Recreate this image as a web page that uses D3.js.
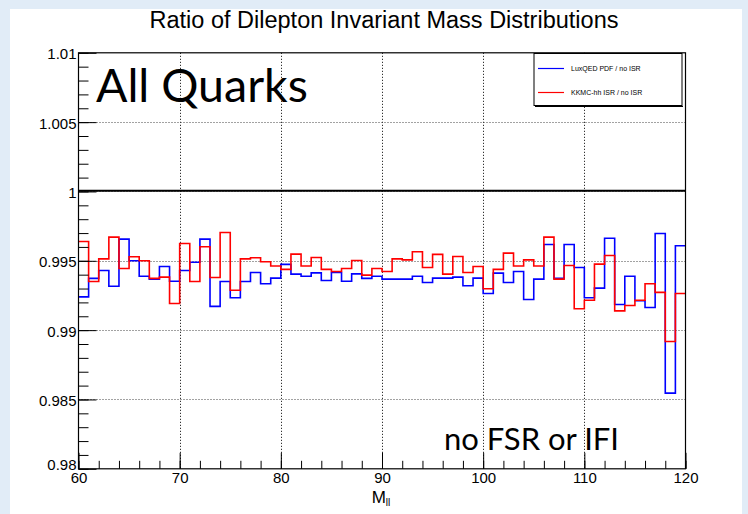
<!DOCTYPE html>
<html>
<head>
<meta charset="utf-8">
<script src="https://cdn.jsdelivr.net/npm/d3@7"></script>
<style>
  html, body { margin: 0; padding: 0; background: #e1ecf7; }
  svg { display: block; }
</style>
</head>
<body>
<script>
// ---- data ----
const binEdges = d3.range(60, 121, 1);           // 1 GeV bins from 60 to 120
const luxqedRatio = [
  0.99240, 0.99373, 0.99430, 0.99317, 0.99656, 0.99500, 0.99389, 0.99368, 0.99459, 0.99353,
  0.99430, 0.99490, 0.99656, 0.99171, 0.99351, 0.99233, 0.99351, 0.99416, 0.99334, 0.99375,
  0.99474, 0.99404, 0.99389, 0.99413, 0.99358, 0.99416, 0.99353, 0.99406, 0.99373, 0.99389,
  0.99368, 0.99368, 0.99368, 0.99389, 0.99344, 0.99375, 0.99375, 0.99382, 0.99320, 0.99375,
  0.99264, 0.99411, 0.99344, 0.99423, 0.99221, 0.99368, 0.99618, 0.99373, 0.99618, 0.99452,
  0.99233, 0.99303, 0.99663, 0.99185, 0.99389, 0.99212, 0.99163, 0.99697, 0.98546, 0.99608
];
const kkmcRatio = [
  0.99639, 0.99351, 0.99514, 0.99671, 0.99445, 0.99529, 0.99500, 0.99373, 0.99382, 0.99192,
  0.99625, 0.99351, 0.99601, 0.99380, 0.99704, 0.99288, 0.99514, 0.99522, 0.99493, 0.99462,
  0.99438, 0.99548, 0.99462, 0.99524, 0.99438, 0.99423, 0.99445, 0.99502, 0.99397, 0.99445,
  0.99423, 0.99514, 0.99507, 0.99565, 0.99452, 0.99546, 0.99404, 0.99531, 0.99416, 0.99459,
  0.99298, 0.99438, 0.99555, 0.99462, 0.99507, 0.99462, 0.99671, 0.99368, 0.99466, 0.99154,
  0.99216, 0.99476, 0.99538, 0.99139, 0.99178, 0.99216, 0.99334, 0.99272, 0.98918, 0.99264
];
const xTickValues = [60, 70, 80, 90, 100, 110, 120];
const xTickLabels = ["60", "70", "80", "90", "100", "110", "120"];
const yTickValues = [0.98, 0.985, 0.99, 0.995, 1.0, 1.005, 1.01];
const yTickLabels = ["0.98", "0.985", "0.99", "0.995", "1", "1.005", "1.01"];
const seriesNames = ["LuxQED PDF / no ISR", "KKMC-hh ISR / no ISR"];
const seriesColors = ["#0000ff", "#ff0000"];
const titleText = "Ratio of Dilepton Invariant Mass Distributions";

// ---- layout ----
const W = 748, H = 514;
const svg = d3.select("body").append("svg").attr("width", W).attr("height", H);
svg.append("rect").attr("x", 0).attr("y", 0).attr("width", W).attr("height", H).attr("fill", "#e1ecf7");
svg.append("rect").attr("x", 10).attr("y", 9).attr("width", 732).attr("height", H - 9).attr("fill", "#ffffff");

const L = 78.5, R = 685.5, T = 52.8, B = 468.8;
const x = d3.scaleLinear().domain([60, 120]).range([L, R]);
const y = d3.scaleLinear().domain([0.98, 1.01]).range([B, T]);
const rootFont = "'Liberation Sans', Arial, Helvetica, sans-serif";

// title
svg.append("text").attr("x", 384).attr("y", 28).attr("text-anchor", "middle")
  .attr("font-family", rootFont).attr("font-size", 23.5).attr("fill", "#000")
  .text(titleText);

// grid
const g = svg.append("g");
g.selectAll("line.vg").data(xTickValues.slice(1, -1)).join("line")
  .attr("x1", d => Math.round(x(d)) + 0.5).attr("x2", d => Math.round(x(d)) + 0.5)
  .attr("y1", T).attr("y2", B)
  .attr("stroke", "#000").attr("stroke-width", 1).attr("stroke-dasharray", "1,2");
g.selectAll("line.hg").data(yTickValues.slice(1, -1)).join("line")
  .attr("x1", L).attr("x2", R)
  .attr("y1", d => Math.round(y(d)) + 0.5).attr("y2", d => Math.round(y(d)) + 0.5)
  .attr("stroke", "#444").attr("stroke-width", 1).attr("stroke-dasharray", "1,2");

// unity line
g.append("line").attr("x1", L).attr("x2", R).attr("y1", y(1.0) - 0.8).attr("y2", y(1.0) - 0.8)
  .attr("stroke", "#000").attr("stroke-width", 2);

// histograms
const stepLine = d3.line().x(d => x(d[0])).y(d => y(d[1])).curve(d3.curveStepAfter);
[luxqedRatio, kkmcRatio].forEach((vals, si) => {
  const pts = vals.map((v, i) => [binEdges[i], v]);
  pts.push([binEdges[vals.length], vals[vals.length - 1]]);
  g.append("path").attr("d", stepLine(pts)).attr("fill", "none")
    .attr("stroke", seriesColors[si]).attr("stroke-width", 1.6);
});

// axes
const yMinor = d3.range(0, 31).map(i => 0.98 + i * 0.001);
const xMinor = d3.range(0, 31).map(i => 60 + i * 2);

svg.append("g").attr("transform", `translate(${L},0)`)
  .call(d3.axisLeft(y).tickValues(yMinor).tickSize(-10).tickFormat(""))
  .call(a => a.select(".domain").remove())
  .call(a => a.selectAll("line").attr("stroke", "#000"));
svg.append("g").attr("transform", `translate(${L},0)`)
  .call(d3.axisLeft(y).tickValues(yTickValues).tickSize(-18).tickPadding(3)
    .tickFormat((d, i) => yTickLabels[i]))
  .call(a => a.select(".domain").remove())
  .call(a => a.selectAll("line").attr("stroke", "#000"))
  .call(a => a.selectAll("text").attr("font-family", rootFont).attr("font-size", 15)
    .attr("fill", "#000").attr("x", -2)
    .attr("dy", d => d === 0.98 ? "0.05em" : "0.4em"));

svg.append("g").attr("transform", `translate(0,${B})`)
  .call(d3.axisBottom(x).tickValues(xMinor).tickSize(-8).tickFormat(""))
  .call(a => a.select(".domain").remove())
  .call(a => a.selectAll("line").attr("stroke", "#000"));
svg.append("g").attr("transform", `translate(0,${B})`)
  .call(d3.axisBottom(x).tickValues(xTickValues).tickSize(-16).tickPadding(4)
    .tickFormat((d, i) => xTickLabels[i]))
  .call(a => a.select(".domain").remove())
  .call(a => a.selectAll("line").attr("stroke", "#000"))
  .call(a => a.selectAll("text").attr("font-family", rootFont).attr("font-size", 15).attr("fill", "#000"));

// frame
svg.append("rect").attr("x", L).attr("y", T).attr("width", R - L).attr("height", B - T)
  .attr("fill", "none").attr("stroke", "#000").attr("stroke-width", 1.2);

// x title
const xt = svg.append("text").attr("x", 381).attr("y", 503).attr("text-anchor", "middle")
  .attr("font-family", rootFont).attr("font-size", 17).attr("fill", "#000");
xt.append("tspan").text("M");
xt.append("tspan").attr("font-size", 10).attr("dy", 3).text("ll");

// legend
const lg = svg.append("g");
lg.append("rect").attr("x", 534).attr("y", 53.5).attr("width", 148).attr("height", 52)
  .attr("fill", "#fff").attr("stroke", "#000").attr("stroke-width", 1);
lg.append("line").attr("x1", 535).attr("x2", 683).attr("y1", 106.5).attr("y2", 106.5).attr("stroke", "#000");
seriesNames.forEach((name, i) => {
  const yy = 68.5 + i * 24;
  lg.append("line").attr("x1", 538).attr("x2", 564).attr("y1", yy).attr("y2", yy)
    .attr("stroke", seriesColors[i]).attr("stroke-width", 1.2);
  lg.append("text").attr("x", 571).attr("y", yy + 2.5).attr("font-family", rootFont)
    .attr("font-size", 7).attr("fill", "#000").text(name);
});

// annotations
svg.append("text").attr("x", 96).attr("y", 102).attr("font-family", "Lato, 'Open Sans', sans-serif")
  .attr("font-size", 46.5).attr("fill", "#000").text("All Quarks");
svg.append("text").attr("x", 444).attr("y", 450).attr("font-family", "Lato, 'Open Sans', sans-serif")
  .attr("font-size", 31).attr("fill", "#000").text("no FSR or IFI");
</script>
</body>
</html>
